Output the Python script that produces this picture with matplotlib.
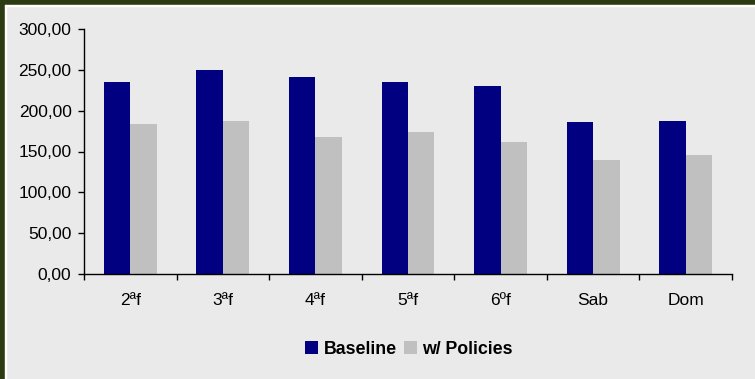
import matplotlib
matplotlib.use("Agg")
import matplotlib.pyplot as plt
from matplotlib.patches import Rectangle
from matplotlib.ticker import FuncFormatter, FixedLocator
import numpy as np

plt.rcParams["font.family"] = ["Liberation Sans", "DejaVu Sans"]

# Data
categories = ["2ªf", "3ªf", "4ªf", "5ªf", "6ºf", "Sab", "Dom"]
baseline = [235.0, 249.8, 241.2, 235.1, 230.2, 186.1, 187.3]
policies = [183.7, 187.3, 167.8, 173.9, 161.6, 139.6, 145.7]

BG = "#EAEAEA"
NAVY = "#000080"
GRAY = "#C0C0C0"
BORDER = "#2D3B12"

fig = plt.figure(figsize=(7.55, 3.79), dpi=100, facecolor=BG)

# dark green frame on top and left, with a thin light line inside
fig.patches.append(Rectangle((0, 1 - 5 / 379), 1, 5 / 379, transform=fig.transFigure,
                             color=BORDER, zorder=0))
fig.patches.append(Rectangle((0, 0), 5 / 755, 1, transform=fig.transFigure,
                             color=BORDER, zorder=0))
fig.patches.append(Rectangle((5 / 755, 1 - 6 / 379), 1, 1 / 379, transform=fig.transFigure,
                             color="white", zorder=0))
fig.patches.append(Rectangle((5 / 755, 0), 1 / 755, 1 - 5 / 379, transform=fig.transFigure,
                             color="white", zorder=0))

ax = fig.add_axes([84 / 755, 105 / 379, 648 / 755, 245 / 379])
ax.set_facecolor(BG)

x = np.arange(len(categories))
w = 0.285
ax.bar(x - w / 2, baseline, w, color=NAVY, label="Baseline", zorder=2)
ax.bar(x + w / 2, policies, w, color=GRAY, label="w/ Policies", zorder=2)

ax.set_xlim(-0.5, len(categories) - 0.5)
ax.set_ylim(0, 300)
ax.set_yticks(np.arange(0, 301, 50))
ax.yaxis.set_major_formatter(FuncFormatter(lambda v, p: f"{v:.2f}".replace(".", ",")))

ax.set_xticks(x)
ax.set_xticklabels(categories)
ax.xaxis.set_minor_locator(FixedLocator(np.arange(-0.5, len(categories), 1.0)))
ax.tick_params(axis="x", which="major", length=0, pad=13.5, labelsize=12.5)
ax.tick_params(axis="x", which="minor", length=4, width=1, color="black", direction="out")
ax.tick_params(axis="y", length=4, width=1, direction="out", pad=5, labelsize=12.5)

for s in ("top", "right"):
    ax.spines[s].set_visible(False)
for s in ("left", "bottom"):
    ax.spines[s].set_linewidth(1)
    ax.spines[s].set_color("black")

leg = fig.legend(loc="center", bbox_to_anchor=(409 / 755, 1 - 349 / 379), ncol=2,
                 frameon=False, handlelength=0.75, handleheight=0.75, handletextpad=0.3,
                 columnspacing=0.4, prop={"weight": "bold", "size": 12.8})

fig.savefig("out.png", dpi=100, facecolor=BG)
